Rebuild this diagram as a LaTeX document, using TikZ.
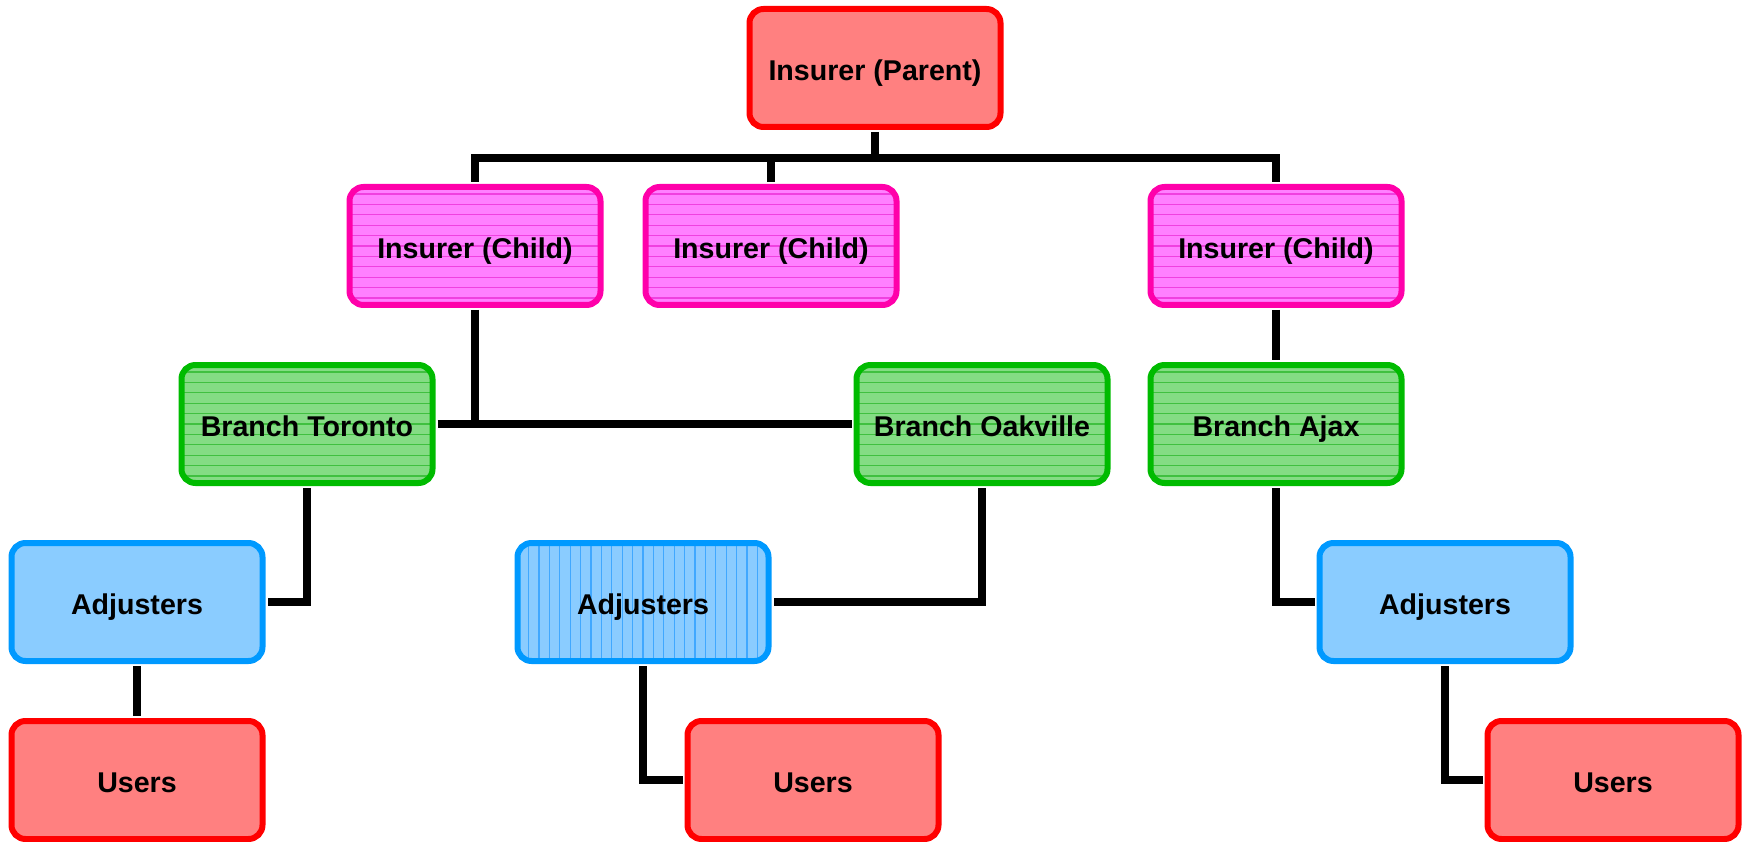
\documentclass[tikz,border=0pt]{standalone}
\usepackage{fontspec}
\setmainfont{Liberation Sans}
\definecolor{bred}{HTML}{FF0000}
\definecolor{fred}{HTML}{FF8080}
\definecolor{bmag}{HTML}{FF00AA}
\definecolor{fmag}{HTML}{FF80FF}
\definecolor{lmag}{HTML}{F040E0}
\definecolor{bgrn}{HTML}{00BB00}
\definecolor{fgrn}{HTML}{84DC84}
\definecolor{lgrn}{HTML}{40C040}
\definecolor{bblu}{HTML}{0099FF}
\definecolor{fblu}{HTML}{8ACCFF}
\definecolor{lblu}{HTML}{40A8FF}
\tikzset{
  box/.style={rounded corners=14pt, line width=6pt, minimum width=251pt,
    minimum height=118pt, inner sep=0pt, text=black,
    text height=25pt, text depth=0pt,
    font=\bfseries\fontsize{28.6}{32}\selectfont},
  hlines/.style={path picture={\foreach \k in {-6,...,6}{
      \draw[line width=1.1pt,#1] ([yshift=\k*10.4pt]path picture bounding box.west)
        -- ([yshift=\k*10.4pt]path picture bounding box.east);}}},
  vlines/.style={path picture={\foreach \k in {-13,...,13}{
      \draw[line width=1.1pt,#1] ([xshift=\k*10.4pt]path picture bounding box.north)
        -- ([xshift=\k*10.4pt]path picture bounding box.south);}}},
  redbox/.style={box, draw=bred, fill=fred},
  magbox/.style={box, draw=bmag, fill=fmag, hlines=lmag},
  grnbox/.style={box, draw=bgrn, fill=fgrn, hlines=lgrn},
  blubox/.style={box, draw=bblu, fill=fblu},
  blustripe/.style={box, draw=bblu, fill=fblu, vlines=lblu},
  conn/.style={line width=7.5pt, draw=black, shorten <=2pt, shorten >=2pt}
}
\begin{document}
\begin{tikzpicture}[x=1pt,y=-1pt]
\useasboundingbox (0,0) rectangle (1746,842);
\node[redbox] (P) at (875,68) {Insurer (Parent)};
\node[magbox] (C1) at (475,246) {Insurer (Child)};
\node[magbox] (C2) at (771,246) {Insurer (Child)};
\node[magbox] (C3) at (1276,246) {Insurer (Child)};
\node[grnbox] (T) at (307,424) {Branch Toronto};
\node[grnbox] (O) at (982,424) {Branch Oakville};
\node[grnbox] (AJ) at (1276,424) {Branch Ajax};
\node[blubox] (A1) at (137,602) {Adjusters};
\node[blustripe] (A2) at (643,602) {Adjusters};
\node[blubox] (A3) at (1445,602) {Adjusters};
\node[redbox] (U1) at (137,780) {Users};
\node[redbox] (U2) at (813,780) {Users};
\node[redbox] (U3) at (1613,780) {Users};
% parent to children
\draw[conn, shorten >=0pt] (P.south) -- ++(0,28);
\draw[conn] (C1.north) -- ++(0,-26) coordinate (busL) -| (C3.north);
\draw[conn, shorten >=0pt] (C2.north) -- (C2.north |- busL);
% child 1 to branches
\draw[conn] (T.east) -- (O.west);
\draw[conn, shorten >=0pt] (C1.south) -- (C1.south |- T.east);
% child 3 to Ajax
\draw[conn] (C3.south) -- (AJ.north);
% branches to adjusters
\draw[conn] (T.south) |- (A1.east);
\draw[conn] (O.south) |- (A2.east);
\draw[conn] (AJ.south) |- (A3.west);
% adjusters to users
\draw[conn] (A1.south) -- (U1.north);
\draw[conn] (A2.south) |- (U2.west);
\draw[conn] (A3.south) |- (U3.west);
\end{tikzpicture}
\end{document}
